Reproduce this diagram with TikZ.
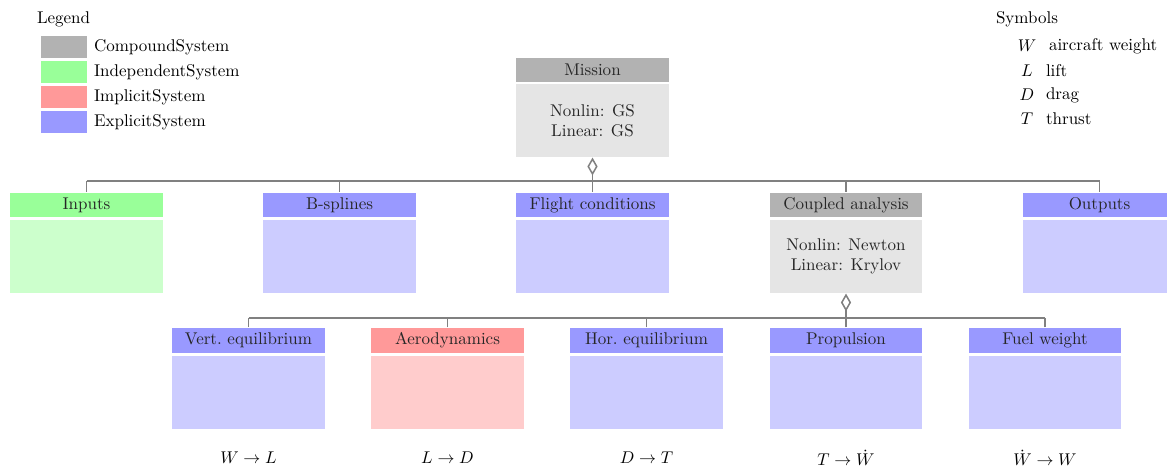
\documentclass[tikz,border=0pt]{standalone}
\usetikzlibrary{arrows.meta}
\definecolor{linegray}{HTML}{808080}
\begin{document}
\begin{tikzpicture}[x=0.5882pt,y=-0.5882pt,
  hdr/.style={draw=white,line width=0.6pt,minimum width=90.5pt,minimum height=14.8pt,inner sep=0pt,text=black!85},
  body/.style={draw=white,line width=0.6pt,minimum width=90.5pt,minimum height=43pt,inner sep=0pt,align=center,text=black!85},
  cH/.style={hdr,fill=black!30}, cB/.style={body,fill=black!10},
  iH/.style={hdr,fill=green!40}, iB/.style={body,fill=green!20},
  mH/.style={hdr,fill=red!40}, mB/.style={body,fill=red!20},
  eH/.style={hdr,fill=blue!40}, eB/.style={body,fill=blue!20},
  swatch/.style={draw=white,line width=0.6pt,minimum width=27.5pt,minimum height=13.5pt,inner sep=0pt},
  conn/.style={draw=linegray,line width=0.9pt},
  agg/.style={conn,{Diamond[open,length=10.5pt,width=6pt]}-}
]
\useasboundingbox (0,0) rectangle (1167,469);
% legend
\node[anchor=west] (legtitle) at (31,19) {Legend};
\node[swatch,fill=black!30] (s1) at (64,47) {};
\node[swatch,fill=green!40] (s2) at (64,72) {};
\node[swatch,fill=red!40] (s3) at (64,97) {};
\node[swatch,fill=blue!40] (s4) at (64,122) {};
\node[anchor=west] (l1) at (88,47) {CompoundSystem};
\node[anchor=west] (l2) at (88,72) {IndependentSystem};
\node[anchor=west] (l3) at (88,97) {ImplicitSystem};
\node[anchor=west] (l4) at (88,122) {ExplicitSystem};
% symbols
\node[anchor=west] (symtitle) at (990,19) {Symbols};
\node (sy1) at (1027,46) {$W$};
\node (sy2) at (1027,71) {$L$};
\node (sy3) at (1027,95) {$D$};
\node (sy4) at (1027,119) {$T$};
\node[anchor=west] (st1) at (1043,46) {aircraft weight};
\node[anchor=west] (st2) at (1040,71) {lift};
\node[anchor=west] (st3) at (1040,95) {drag};
\node[anchor=west] (st4) at (1040,119) {thrust};
% mission
\node[cH] (missionH) at (592.5,70) {Mission};
\node[cB] (missionB) at (592.5,120.5) {Nonlin: GS\\Linear: GS};
% row 2
\node[iH] (inputsH) at (86.5,205) {Inputs};
\node[iB] (inputsB) at (86.5,256.5) {};
\node[eH] (bsplH) at (339.5,205) {B-splines};
\node[eB] (bsplB) at (339.5,256.5) {};
\node[eH] (flightH) at (592.5,205) {Flight conditions};
\node[eB] (flightB) at (592.5,256.5) {};
\node[cH] (coupH) at (846,205) {Coupled analysis};
\node[cB] (coupB) at (846,256.5) {Nonlin: Newton\\Linear: Krylov};
\node[eH] (outH) at (1099.5,205) {Outputs};
\node[eB] (outB) at (1099.5,256.5) {};
% row 3
\node[eH] (vertH) at (248.5,340.5) {Vert.\ equilibrium};
\node[eB] (vertB) at (248.5,392.5) {};
\node[mH] (aeroH) at (447.5,340.5) {Aerodynamics};
\node[mB] (aeroB) at (447.5,392.5) {};
\node[eH] (horH) at (646.5,340.5) {Hor.\ equilibrium};
\node[eB] (horB) at (646.5,392.5) {};
\node[eH] (propH) at (846,340.5) {Propulsion};
\node[eB] (propB) at (846,392.5) {};
\node[eH] (fuelH) at (1045,340.5) {Fuel weight};
\node[eB] (fuelB) at (1045,392.5) {};
% bottom labels
\node (v1) at (248.5,458) {$W \to L$};
\node (v2) at (447.5,458) {$L \to D$};
\node (v3) at (646.5,458) {$D \to T$};
\node (v4) at (846,458) {$T \to \dot{W}$};
\node (v5) at (1045,458) {$\dot{W} \to W$};
% bus 1
\coordinate (bus1) at (592.5,181);
\draw[conn] (inputsH.north |- bus1) -- (outH.north |- bus1);
\draw[agg] (missionB.south) -- (bus1);
\foreach \n in {inputsH,bsplH,flightH,coupH,outH}
  \draw[conn] (\n.north) -- (\n.north |- bus1);
% bus 2
\coordinate (bus2) at (846,318);
\draw[conn] (vertH.north |- bus2) -- (fuelH.north |- bus2);
\draw[agg] (coupB.south) -- (bus2);
\foreach \n in {vertH,aeroH,horH,propH,fuelH}
  \draw[conn] (\n.north) -- (\n.north |- bus2);
\end{tikzpicture}
\end{document}
